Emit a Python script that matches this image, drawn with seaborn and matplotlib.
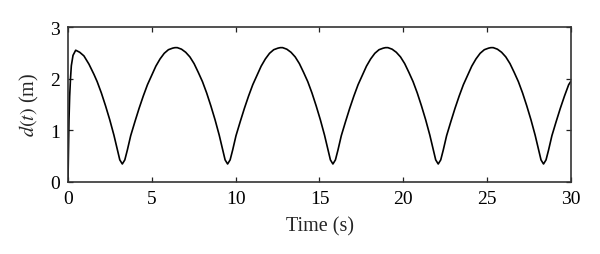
import matplotlib
matplotlib.use("Agg")
import matplotlib.pyplot as plt
import seaborn as sns
import pandas as pd

# time samples (s)
time_s = [
    0.0, 0.03, 0.06, 0.10, 0.15, 0.20, 0.30, 0.46, 0.70, 0.95, 1.25, 1.55,
    1.74, 1.99, 2.24, 2.49, 2.74, 2.94, 3.09, 3.24,
    3.39, 3.54, 3.74, 3.99, 4.24, 4.49, 4.74, 4.99, 5.24, 5.49, 5.74, 5.99, 6.24,
    6.38,
    6.52, 6.77, 7.02, 7.27, 7.52, 7.77, 8.02, 8.27, 8.52, 8.77, 9.02, 9.22, 9.37, 9.52,
    9.67, 9.82, 10.02, 10.27, 10.52, 10.77, 11.02, 11.27, 11.52, 11.77, 12.02, 12.27, 12.52,
    12.66,
    12.80, 13.05, 13.30, 13.55, 13.80, 14.05, 14.30, 14.55, 14.80, 15.05, 15.30, 15.50, 15.65, 15.80,
    15.95, 16.10, 16.30, 16.55, 16.80, 17.05, 17.30, 17.55, 17.80, 18.05, 18.30, 18.55, 18.80,
    18.94,
    19.08, 19.33, 19.58, 19.83, 20.08, 20.33, 20.58, 20.83, 21.08, 21.33, 21.58, 21.78, 21.93, 22.08,
    22.23, 22.38, 22.58, 22.83, 23.08, 23.33, 23.58, 23.83, 24.08, 24.33, 24.58, 24.83, 25.08,
    25.22,
    25.36, 25.61, 25.86, 26.11, 26.36, 26.61, 26.86, 27.11, 27.36, 27.61, 27.86, 28.06, 28.21, 28.36,
    28.51, 28.66, 28.86, 29.11, 29.36, 29.61, 29.86, 30.0,
]

# distance d(t) in m
dist_m = [
    0.0, 0.60, 1.20, 1.65, 2.00, 2.25, 2.45, 2.55, 2.51, 2.44, 2.28, 2.08,
    1.94, 1.72, 1.47, 1.20, 0.90, 0.63, 0.42, 0.34,
    0.42, 0.61, 0.89, 1.16, 1.42, 1.66, 1.88, 2.06, 2.24, 2.38, 2.49, 2.56, 2.59,
    2.60,
    2.60, 2.57, 2.51, 2.42, 2.29, 2.12, 1.94, 1.72, 1.47, 1.20, 0.90, 0.63, 0.42, 0.34,
    0.42, 0.61, 0.89, 1.16, 1.42, 1.66, 1.88, 2.06, 2.24, 2.38, 2.49, 2.56, 2.59,
    2.60,
    2.60, 2.57, 2.51, 2.42, 2.29, 2.12, 1.94, 1.72, 1.47, 1.20, 0.90, 0.63, 0.42, 0.34,
    0.42, 0.61, 0.89, 1.16, 1.42, 1.66, 1.88, 2.06, 2.24, 2.38, 2.49, 2.56, 2.59,
    2.60,
    2.60, 2.57, 2.51, 2.42, 2.29, 2.12, 1.94, 1.72, 1.47, 1.20, 0.90, 0.63, 0.42, 0.34,
    0.42, 0.61, 0.89, 1.16, 1.42, 1.66, 1.88, 2.06, 2.24, 2.38, 2.49, 2.56, 2.59,
    2.60,
    2.60, 2.57, 2.51, 2.42, 2.29, 2.12, 1.94, 1.72, 1.47, 1.20, 0.90, 0.63, 0.42, 0.34,
    0.42, 0.61, 0.89, 1.16, 1.42, 1.66, 1.88, 1.95,
]

x_ticks = [0, 5, 10, 15, 20, 25, 30]
y_ticks = [0, 1, 2, 3]

df = pd.DataFrame({"t": time_s, "d": dist_m})

sns.set_style("ticks")
plt.rcParams["font.family"] = ["Liberation Serif", "DejaVu Serif"]
plt.rcParams["mathtext.fontset"] = "stix"
plt.rcParams["xtick.direction"] = "in"
plt.rcParams["ytick.direction"] = "in"

fig = plt.figure(figsize=(6.0, 2.55), dpi=100)
ax = fig.add_axes([0.1133, 0.2843, 0.8384, 0.6057])

sns.lineplot(data=df, x="t", y="d", ax=ax, color="black", linewidth=1.2,
             estimator=None, sort=False)

ax.set_xlim(0, 30)
ax.set_ylim(0, 3)
ax.set_xticks(x_ticks)
ax.set_yticks(y_ticks)
ax.tick_params(axis="both", which="both", top=True, right=True, length=3.5,
               width=0.9, labelsize=14, colors="#222222", labelcolor="black")
ax.tick_params(axis="x", pad=6)
ax.tick_params(axis="y", pad=6)
for s in ax.spines.values():
    s.set_visible(True)
    s.set_linewidth(1.2)
    s.set_color("#333333")

ax.set_xlabel("Time (s)", fontsize=14.5, labelpad=7)
ax.set_ylabel(r"$d(t)$ (m)", fontsize=14.5, labelpad=6)

fig.savefig("out.png", dpi=100)
